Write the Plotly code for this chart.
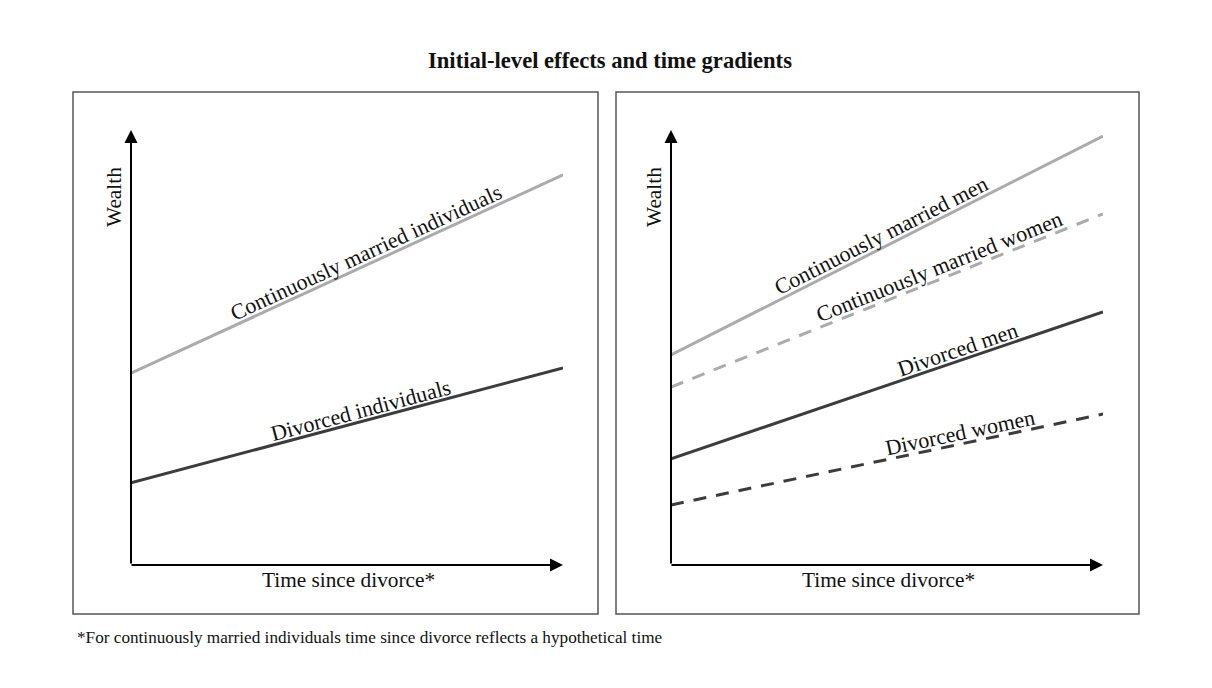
import math
import plotly.graph_objects as go

W, H = 1212, 688

# ---- data (schematic wealth trajectories) ----
time = [0, 10]
left_married = [4.41, 8.97]
left_divorced = [1.89, 4.53]
right_cm_men = [4.83, 9.86]
right_cm_women = [4.09, 8.07]
right_div_men = [2.44, 5.82]
right_div_women = [1.38, 3.47]

title_text = "Initial-level effects and time gradients"
x_label = "Time since divorce*"
y_label = "Wealth"
footnote = "*For continuously married individuals time since divorce reflects a hypothetical time"

LIGHT = "#ababab"
DARK = "#3c3c3c"
FONT = "Liberation Serif, Times New Roman, serif"

# pixel geometry of the two axes
L_X0, L_X1 = 131, 563
R_X0, R_X1 = 671, 1103
Y0, Y1 = 565, 130  # pixel rows for y=0 and y=10


def px(x):
    return x / W


def py(y):
    return 1 - y / H


fig = go.Figure()

fig.update_layout(
    width=W, height=H,
    margin=dict(l=0, r=0, t=0, b=0),
    paper_bgcolor="white", plot_bgcolor="rgba(0,0,0,0)",
    showlegend=False,
    xaxis=dict(domain=[px(L_X0), px(L_X1)], range=[0, 10], visible=False, fixedrange=True),
    yaxis=dict(domain=[py(Y0), py(Y1)], range=[0, 10], visible=False, fixedrange=True),
    xaxis2=dict(domain=[px(R_X0), px(R_X1)], range=[0, 10], visible=False, anchor="y2", fixedrange=True),
    yaxis2=dict(domain=[py(Y0), py(Y1)], range=[0, 10], visible=False, anchor="x2", fixedrange=True),
)

series = [
    ("x", "y", left_married, LIGHT, "solid"),
    ("x", "y", left_divorced, DARK, "solid"),
    ("x2", "y2", right_cm_men, LIGHT, "solid"),
    ("x2", "y2", right_cm_women, LIGHT, "13px,10px"),
    ("x2", "y2", right_div_men, DARK, "solid"),
    ("x2", "y2", right_div_women, DARK, "13px,10px"),
]
for xa, ya, vals, col, dash in series:
    fig.add_trace(go.Scatter(x=time, y=vals, xaxis=xa, yaxis=ya, mode="lines",
                             line=dict(color=col, width=3, dash=dash), hoverinfo="skip"))

# panel boxes
for x0, x1 in [(73, 598), (616, 1139)]:
    fig.add_shape(type="rect", xref="paper", yref="paper",
                  x0=px(x0), x1=px(x1), y0=py(614), y1=py(92),
                  line=dict(color="#555555", width=1.5), fillcolor="rgba(0,0,0,0)")

annotations = []
# axis arrows
for x0, x1 in [(L_X0, L_X1), (R_X0, R_X1)]:
    # vertical axis
    annotations.append(dict(xref="paper", yref="paper", x=px(x0), y=py(Y1),
                            ax=0, ay=Y0 - Y1, axref="pixel", ayref="pixel",
                            showarrow=True, arrowhead=2, arrowsize=1.3, arrowwidth=2,
                            arrowcolor="black", text=""))
    # horizontal axis
    annotations.append(dict(xref="paper", yref="paper", x=px(x1), y=py(Y0),
                            ax=-(x1 - x0 + 1), ay=0, axref="pixel", ayref="pixel",
                            showarrow=True, arrowhead=2, arrowsize=1.3, arrowwidth=2,
                            arrowcolor="black", text=""))
    annotations.append(dict(xref="paper", yref="paper", x=px((x0 + x1) / 2 + 1), y=py(580),
                            text=x_label, showarrow=False, xanchor="center", yanchor="middle",
                            font=dict(family=FONT, size=21.3, color="#111111")))
    annotations.append(dict(xref="paper", yref="paper", x=px(x0 - 17), y=py(197),
                            text=y_label, showarrow=False, textangle=-90,
                            xanchor="center", yanchor="middle",
                            font=dict(family=FONT, size=21.3, color="#111111")))

# line labels
sx = (L_X1 - L_X0) / 10.0
sy = (Y0 - Y1) / 10.0
labels = [
    ("x", "y", left_married, "Continuously married individuals", 5.55, 12),
    ("x", "y", left_divorced, "Divorced individuals", 5.37, 11.5),
    ("x2", "y2", right_cm_men, "Continuously married men", 4.98, 12),
    ("x2", "y2", right_cm_women, "Continuously married women", 6.32, 11.5),
    ("x2", "y2", right_div_men, "Divorced men", 6.72, 11.5),
    ("x2", "y2", right_div_women, "Divorced women", 6.75, 11.5),
]
for xa, ya, vals, txt, xc, off in labels:
    slope = (vals[1] - vals[0]) / (time[1] - time[0])
    ang = math.degrees(math.atan2(slope * sy, sx))
    yc = vals[0] + slope * (xc - time[0])
    th = math.radians(ang)
    annotations.append(dict(xref=xa, yref=ya, x=xc, y=yc, text=txt, showarrow=False,
                            textangle=-ang, xanchor="center", yanchor="middle",
                            xshift=-off * math.sin(th), yshift=off * math.cos(th),
                            font=dict(family=FONT, size=22, color="#111111")))

annotations.append(dict(xref="paper", yref="paper", x=px(610), y=py(60),
                        text="<b>" + title_text + "</b>", showarrow=False,
                        xanchor="center", yanchor="middle",
                        font=dict(family=FONT, size=22.6, color="#111111")))
annotations.append(dict(xref="paper", yref="paper", x=px(75), y=py(637),
                        text=footnote, showarrow=False, xanchor="left", yanchor="middle",
                        font=dict(family=FONT, size=17.2, color="#111111")))

fig.update_layout(annotations=annotations)
fig.write_html("out.html", config={"displayModeBar": False},
               post_script="document.body.style.margin='0px';document.body.style.padding='0px';")
